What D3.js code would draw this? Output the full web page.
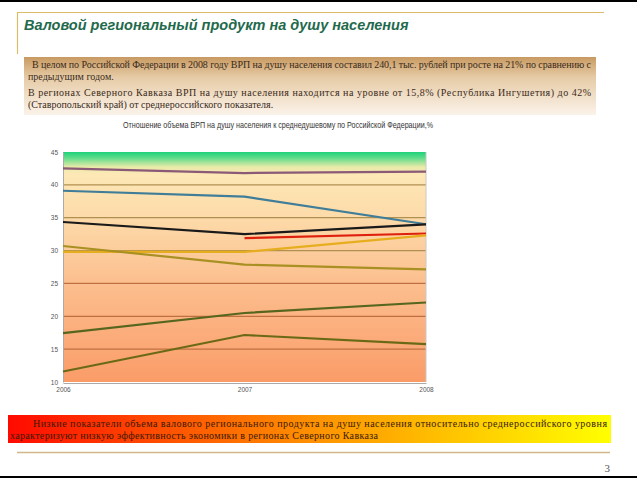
<!DOCTYPE html>
<html>
<head>
<meta charset="utf-8">
<script src="https://cdn.jsdelivr.net/npm/d3@7"></script>
<style>
body { margin: 0; background: #fff; }
svg { display: block; }
</style>
</head>
<body>
<script>
// chart values
var years = [2006, 2007, 2008];
var yTicks = [10, 15, 20, 25, 30, 35, 40, 45];
var seriesValues = [
	[42.5, 41.8, 42.0],
	[39.1, 38.2, 34.0],
	[34.35, 32.5, 34.0],
	[null, 31.9, 32.6],
	[29.8, 29.8, 32.3],
	[30.7, 27.85, 27.15],
	[17.45, 20.5, 22.1],
	[11.6, 17.15, 15.75]
];
var seriesColors = ["#8a5a76", "#3f7d98", "#1a1a1a", "#e0200e", "#e6ae1e", "#a89022", "#56661e", "#6a6a16"];

var SERIF = "Liberation Serif";
var SANS = "Liberation Sans";

var W = 637, H = 478;
var svg = d3.select("body").append("svg").attr("width", W).attr("height", H);
var defs = svg.append("defs");

// black strips top and bottom
svg.append("rect").attr("x", 0).attr("y", 0).attr("width", W).attr("height", 2).attr("fill", "#000");
svg.append("rect").attr("x", 0).attr("y", H - 2).attr("width", W).attr("height", 2).attr("fill", "#000");

// title frame
svg.append("line").attr("x1", 17).attr("x2", 604).attr("y1", 12.5).attr("y2", 12.5)
	.attr("stroke", "#dcbc66").attr("stroke-width", 1.2);
svg.append("line").attr("x1", 17.5).attr("x2", 17.5).attr("y1", 12).attr("y2", 54)
	.attr("stroke", "#dcbc66").attr("stroke-width", 1.2);
svg.append("text").attr("font-family", SANS).attr("x", 24).attr("y", 30)
	.attr("font-size", 14.5).attr("font-weight", "bold").attr("font-style", "italic")
	.attr("fill", "#1f6a4c")
	.text("Валовой региональный продукт на душу населения");

// info box
var boxGrad = defs.append("linearGradient").attr("id", "boxGrad")
	.attr("x1", 0).attr("y1", 0).attr("x2", 0).attr("y2", 1);
boxGrad.append("stop").attr("offset", 0).attr("stop-color", "#c89a62");
boxGrad.append("stop").attr("offset", 0.35).attr("stop-color", "#e6cba6");
boxGrad.append("stop").attr("offset", 1).attr("stop-color", "#fbf3ea");
svg.append("rect").attr("x", 24).attr("y", 57).attr("width", 572).attr("height", 58).attr("fill", "url(#boxGrad)");

var infoLines = [
	{x: 32, y: 67.5, w: 559, t: "В целом по Российской Федерации в 2008 году ВРП на душу населения составил 240,1 тыс. рублей при росте на 21% по сравнению с"},
	{x: 28, y: 80, w: 0, t: "предыдущим годом."},
	{x: 28, y: 95.5, w: 563, t: "В регионах Северного Кавказа ВРП на душу населения находится на уровне от 15,8% (Республика Ингушетия) до 42%"},
	{x: 28, y: 108, w: 0, t: "(Ставропольский край) от среднероссийского показателя."}
];
infoLines.forEach(function (l) {
	var t = svg.append("text").attr("font-family", SERIF).attr("x", l.x).attr("y", l.y)
		.attr("font-size", 10).attr("fill", "#3a2a1a").text(l.t);
	if (l.w) t.attr("textLength", l.w).attr("lengthAdjust", "spacing");
});

// chart title
svg.append("text").attr("font-family", SANS).attr("x", 278).attr("y", 128).attr("text-anchor", "middle")
	.attr("font-size", 9.2).attr("fill", "#333")
	.attr("textLength", 310).attr("lengthAdjust", "spacingAndGlyphs")
	.text("Отношение объема ВРП на душу населения к среднедушевому по Российской Федерации,%");

// plot
var x = d3.scalePoint().domain(years).range([63, 426]);
var y = d3.scaleLinear().domain([10, 45]).range([382, 152]);

var bg = defs.append("linearGradient").attr("id", "plotGrad")
	.attr("gradientUnits", "userSpaceOnUse")
	.attr("x1", 0).attr("x2", 0).attr("y1", y(45)).attr("y2", y(10));
[[0, "#1ed27a"], [0.025, "#5cdc8a"], [0.065, "#e8eaa8"], [0.095, "#fde8b6"], [0.3, "#fdd9a8"],
 [0.6, "#fcbc8c"], [1, "#fa9c68"]].forEach(function (s) {
	bg.append("stop").attr("offset", s[0]).attr("stop-color", s[1]);
});
svg.append("rect").attr("x", x(2006)).attr("y", y(45))
	.attr("width", x(2008) - x(2006)).attr("height", y(10) - y(45))
	.attr("fill", "url(#plotGrad)");

// gridlines
svg.append("g").selectAll("line").data(yTicks.filter(function (d) { return d > 10 && d < 45; }))
	.enter().append("line")
	.attr("x1", x(2006)).attr("x2", x(2008))
	.attr("y1", function (d) { return y(d); }).attr("y2", function (d) { return y(d); })
	.attr("stroke", function (d) { return d >= 30 ? "#b09050" : "#c07040"; })
	.attr("stroke-width", 1.3);

// right border
svg.append("line").attr("x1", x(2008)).attr("x2", x(2008)).attr("y1", y(45)).attr("y2", y(10))
	.attr("stroke", "#c8c8c8").attr("stroke-width", 1);

// axes
var yAxis = svg.append("g").attr("transform", "translate(" + x(2006) + ",0)")
	.call(d3.axisLeft(y).tickValues(yTicks).tickSize(0).tickPadding(5));
var xAxis = svg.append("g").attr("transform", "translate(0," + (y(10) + 1) + ")")
	.call(d3.axisBottom(x).tickSize(0).tickPadding(4));
[yAxis, xAxis].forEach(function (a) {
	a.select(".domain").attr("stroke", "#aaa");
	a.selectAll("text").attr("font-family", SANS)
		.attr("font-size", 6.5).attr("fill", "#555");
});

// series lines
var line = d3.line()
	.defined(function (d) { return d.v != null; })
	.x(function (d) { return x(d.year); })
	.y(function (d) { return y(d.v); });
seriesValues.forEach(function (vals, i) {
	var pts = vals.map(function (v, j) { return {year: years[j], v: v}; });
	svg.append("path").datum(pts)
		.attr("d", line)
		.attr("fill", "none")
		.attr("stroke", seriesColors[i])
		.attr("stroke-width", 2.2);
});

// conclusion box
var redGrad = defs.append("linearGradient").attr("id", "redGrad")
	.attr("x1", 0).attr("y1", 0).attr("x2", 1).attr("y2", 0);
redGrad.append("stop").attr("offset", 0).attr("stop-color", "#ff0a00");
redGrad.append("stop").attr("offset", 0.5).attr("stop-color", "#ff9000");
redGrad.append("stop").attr("offset", 1).attr("stop-color", "#ffff00");
svg.append("rect").attr("x", 8).attr("y", 415).attr("width", 603).attr("height", 28).attr("fill", "url(#redGrad)");

var bottomLines = [
	{x: 33, y: 426.5, w: 574, t: "Низкие показатели объема валового регионального продукта на душу населения относительно среднероссийского уровня"},
	{x: 10, y: 439, w: 368, t: "характеризуют низкую эффективность экономики в регионах Северного Кавказа"}
];
bottomLines.forEach(function (l) {
	svg.append("text").attr("font-family", SERIF).attr("x", l.x).attr("y", l.y)
		.attr("font-size", 10).attr("fill", "#3a1a00")
		.attr("textLength", l.w).attr("lengthAdjust", "spacing")
		.text(l.t);
});

svg.append("line").attr("x1", 17).attr("x2", 610).attr("y1", 452.5).attr("y2", 452.5)
	.attr("stroke", "#d0b888").attr("stroke-width", 1.5);

svg.append("text").attr("font-family", SERIF).attr("x", 610).attr("y", 472).attr("text-anchor", "end")
	.attr("font-size", 11).attr("fill", "#555").text("3");
</script>
</body>
</html>
